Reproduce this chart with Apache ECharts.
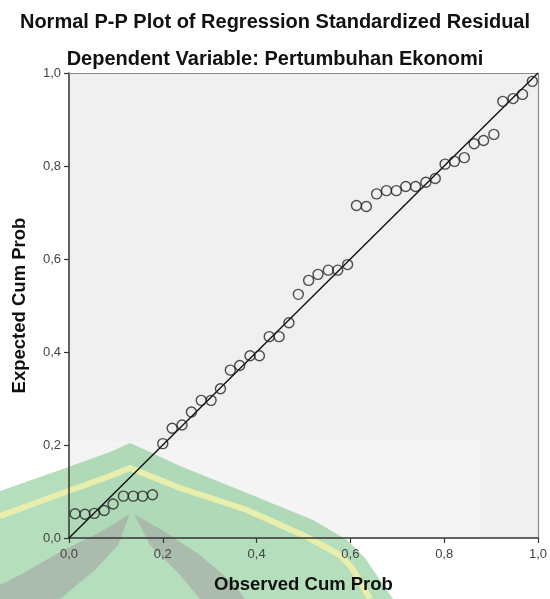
<!DOCTYPE html>
<html>
<head>
<meta charset="utf-8">
<script src="https://cdn.jsdelivr.net/npm/echarts@6/dist/echarts.min.js"></script>
<style>html,body{margin:0;padding:0;background:#fff;}#c{width:550px;height:599px;}</style>
</head>
<body>
<div id="c"></div>
<script>
var titleText = 'Normal P-P Plot of Regression Standardized Residual';
var subtitleText = 'Dependent Variable: Pertumbuhan Ekonomi';
var xAxisName = 'Observed Cum Prob';
var yAxisName = 'Expected Cum Prob';
var tickValues = [0, 0.2, 0.4, 0.6, 0.8, 1.0];
var tickLabels = ['0,0', '0,2', '0,4', '0,6', '0,8', '1,0'];

var observedCumProb = [0.013,0.034,0.054,0.075,0.094,0.116,0.137,0.157,0.178,0.200,
  0.220,0.241,0.261,0.282,0.303,0.323,0.344,0.364,0.386,0.406,
  0.427,0.448,0.469,0.489,0.511,0.531,0.553,0.573,0.594,0.613,
  0.634,0.656,0.677,0.698,0.718,0.739,0.761,0.781,0.802,0.822,
  0.843,0.864,0.884,0.906,0.925,0.947,0.967,0.988];
var expectedCumProb = [0.052,0.051,0.053,0.059,0.073,0.090,0.090,0.090,0.093,0.203,
  0.236,0.243,0.271,0.296,0.296,0.321,0.361,0.371,0.392,0.392,
  0.433,0.433,0.463,0.524,0.554,0.567,0.576,0.576,0.588,0.715,
  0.713,0.740,0.747,0.747,0.756,0.756,0.765,0.773,0.804,0.810,
  0.818,0.848,0.855,0.868,0.939,0.945,0.954,0.982];
var refLineX = [0, 1];
var refLineY = [0, 1];

var points = observedCumProb.map(function(v, i){ return [v, expectedCumProb[i]]; });
var refLine = refLineX.map(function(v, i){ return [v, refLineY[i]]; });

function tickFmt(v){
  for (var i = 0; i < tickValues.length; i++) {
    if (Math.abs(tickValues[i] - v) < 1e-9) return tickLabels[i];
  }
  return '';
}

var FONT = '"Liberation Sans", Arial, sans-serif';
var chart = echarts.init(document.getElementById('c'), null, {renderer: 'canvas'});

var axisCommon = {
  type: 'value', min: 0, max: 1, interval: 0.2, z: 2,
  axisLine: {show: true, onZero: false, lineStyle: {color: '#333', width: 1.5}},
  axisTick: {show: true, inside: false, length: 5, lineStyle: {color: '#333', width: 1.2}},
  axisLabel: {formatter: tickFmt, color: '#444', fontSize: 13, fontFamily: FONT},
  splitLine: {show: false},
  nameLocation: 'middle',
  nameTextStyle: {color: '#111', fontSize: 18.5, fontWeight: 'bold', fontFamily: FONT}
};
var frameAxis = {
  type: 'value', min: 0, max: 1, interval: 0.2, z: 2,
  axisLine: {show: true, onZero: false, lineStyle: {color: '#8a8a8a', width: 1.2}},
  axisTick: {show: false}, axisLabel: {show: false}, splitLine: {show: false}
};

chart.setOption({
  animation: false,
  backgroundColor: '#fff',
  title: [
    {text: titleText, left: 'center', top: 7,
     textStyle: {fontSize: 20, fontWeight: 'bold', color: '#111', fontFamily: FONT}},
    {text: subtitleText, left: 'center', top: 44,
     textStyle: {fontSize: 20, fontWeight: 'bold', color: '#111', fontFamily: FONT}}
  ],
  graphic: [
    {type: 'rect', z: 1, silent: true, shape: {x: 0, y: 441, width: 480, height: 158},
     style: {fill: 'rgba(255,255,255,0.3)'}},
    {type: 'polygon', z: 1, silent: true,
     shape: {points: [[0,491],[60,470],[110,452],[130,443],[150,452],[180,466],[247,493],[313,520],[347,540],[365,558],[380,580],[393,599],[0,599]]},
     style: {fill: 'rgba(120,195,135,0.55)'}},
    {type: 'polyline', z: 1, silent: true,
     shape: {points: [[0,516],[60,494],[110,476],[130,468],[150,476],[180,488],[247,510],[307,537],[340,555],[352,568],[362,585],[370,599]]},
     style: {stroke: 'rgba(238,240,170,0.9)', lineWidth: 6, fill: null}},
    {type: 'polygon', z: 1, silent: true,
     shape: {points: [[130,514],[100,532],[60,552],[20,575],[0,585],[0,599],[60,599],[95,570],[118,545]]},
     style: {fill: 'rgba(165,165,165,0.6)'}},
    {type: 'polygon', z: 1, silent: true,
     shape: {points: [[134,514],[165,532],[200,555],[235,585],[245,599],[200,599],[180,575],[150,545]]},
     style: {fill: 'rgba(165,165,165,0.6)'}}
  ],
  grid: {left: 69, right: 12, top: 73, bottom: 58, show: true, z: 0,
         backgroundColor: '#f0f0f0', borderWidth: 0},
  xAxis: [
    Object.assign({}, axisCommon, {name: xAxisName, nameGap: 37, position: 'bottom',
      axisLabel: Object.assign({}, axisCommon.axisLabel, {margin: 10})}),
    Object.assign({}, frameAxis, {position: 'top'})
  ],
  yAxis: [
    Object.assign({}, axisCommon, {name: yAxisName, nameGap: 40, position: 'left'}),
    Object.assign({}, frameAxis, {position: 'right'})
  ],
  series: [
    {type: 'line', data: refLine, symbol: 'none', silent: true,
     lineStyle: {color: '#111', width: 1.4}, z: 3},
    {type: 'scatter', data: points, symbol: 'circle', symbolSize: 10,
     itemStyle: {color: 'rgba(0,0,0,0)', borderColor: '#222', borderWidth: 1.4}, z: 4}
  ]
});
</script>
</body>
</html>
